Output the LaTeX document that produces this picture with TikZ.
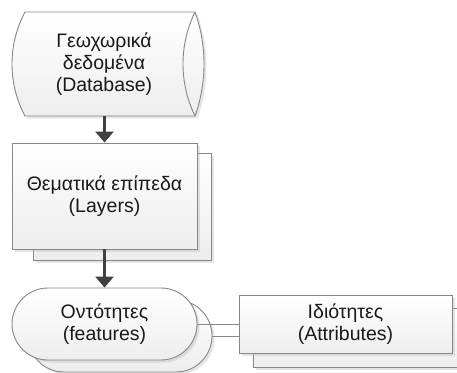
\documentclass[tikz,border=0pt]{standalone}
\usepackage{fontspec}
\setmainfont{Liberation Sans}
\usetikzlibrary{shapes.geometric,shapes.misc,arrows.meta,shadows}
\definecolor{edgegray}{HTML}{878787}
\definecolor{ink}{HTML}{404040}
\tikzset{
  shapefill/.style={draw=edgegray, line width=0.9pt, top color=white,
    bottom color=black!7,
    drop shadow={shadow xshift=2.5pt, shadow yshift=-2.5pt,
      fill=black!30, opacity=0.35}},
  labeltext/.style={align=center, text=black!90,
    font=\fontsize{19.5}{22}\selectfont, inner sep=0pt},
  flowshape/.style={shapefill, labeltext},
  flowarrow/.style={draw=ink, line width=3.4pt,
    -{Triangle[width=18pt,length=11pt]}},
  linkline/.style={draw=edgegray, line width=0.9pt},
}
\begin{document}
\begin{tikzpicture}[x=1pt,y=-1pt]
\clip (0,0) rectangle (457,372);

% database drum: shallow arcs on both sides, lens-shaped end on the right
\path[shapefill] (195,12)
  arc[start angle=-19.64, end angle=19.64, radius=154.7]
  -- (25,116)
  arc[start angle=151.93, end angle=208.07, radius=110.5]
  -- cycle;
\draw[edgegray, line width=0.9pt] (195,12)
  arc[start angle=205.98, end angle=154.02, radius=118.7];
\node[labeltext, minimum width=160pt, minimum height=104pt] (db)
  at (104,64) {Γεωχωρικά\\δεδομένα\\(Database)};

% thematic layers (stacked)
\node[flowshape, rectangle, minimum width=178pt, minimum height=107pt]
  (layersback) at (122,206.5) {};
\node[flowshape, rectangle, minimum width=185pt, minimum height=106pt]
  (layers) at (104.5,196) {Θεματικά επίπεδα\\(Layers)};

% features (stacked)
\node[flowshape, rounded rectangle, minimum width=184pt, minimum height=72pt]
  (featback) at (120,336) {};
\node[flowshape, rounded rectangle, minimum width=185pt, minimum height=72pt]
  (feat) at (104.5,324) {Οντότητες\\(features)};

% links to attributes
\draw[linkline] (feat.east) -- (feat.east -| 239,0);
\draw[linkline] (featback.east) -- (featback.east -| 239,0);

% attributes (stacked)
\node[flowshape, rectangle, minimum width=213pt, minimum height=59pt]
  (attrback) at (359.5,337.5) {};
\node[flowshape, rectangle, minimum width=213pt, minimum height=58pt]
  (attr) at (345.5,324) {Ιδιότητες\\(Attributes)};

% flow arrows
\draw[flowarrow] (db.south -| layers.north) -- (layers.north);
\draw[flowarrow] (layers.south) -- (feat.north);
\end{tikzpicture}
\end{document}
